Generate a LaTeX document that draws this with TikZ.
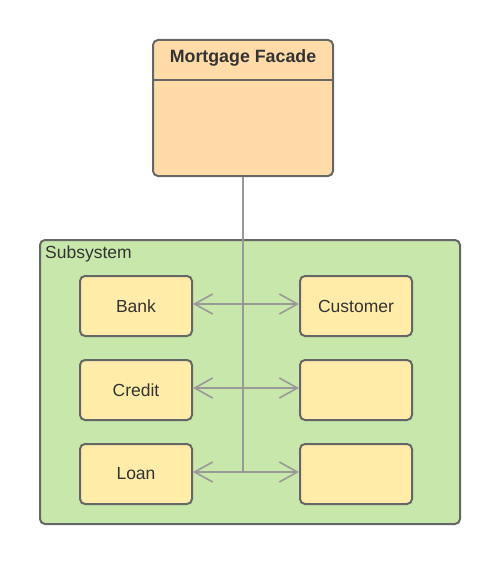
\documentclass[tikz,border=0pt]{standalone}
\usepackage{fontspec}
\setmainfont{Liberation Sans}
\usetikzlibrary{arrows.meta}
\definecolor{facadefill}{RGB}{255,219,168}
\definecolor{subfill}{RGB}{199,231,171}
\definecolor{classfill}{RGB}{255,236,168}
\definecolor{edgegray}{RGB}{102,102,102}
\definecolor{wiregray}{RGB}{153,153,153}
\definecolor{textgray}{RGB}{51,51,51}
\tikzset{x=1pt,y=-1pt,
    box/.style={
        draw=edgegray,
        line width=2pt,
        rounded corners=5pt},
    facadebox/.style={
        box,
        fill=facadefill,
        minimum width=180pt,
        minimum height=136pt},
    subbox/.style={
        box,
        fill=subfill,
        minimum width=420pt,
        minimum height=284pt},
    classbox/.style={
        box,
        fill=classfill,
        minimum width=112pt,
        minimum height=60pt,
        text=textgray,
        font=\fontsize{17.5}{20}\selectfont},
    wire/.style={
        draw=wiregray,
        line width=1.6pt},
    every edge/.style={
        wire,
        -{Straight Barb[length=18pt,width=20pt,line width=1.6pt]}}}
\begin{document}
\begin{tikzpicture}
        \useasboundingbox (0,0) rectangle (500,564);

        \node[facadebox] (facade) at (243,108) {};
        \node[font=\fontsize{17.8}{20}\selectfont\bfseries,text=textgray] (title) at (243,58) {Mortgage Facade};
        \draw[draw=edgegray,line width=2pt] (facade.west |- 0,80) -- (facade.east |- 0,80);

        \node[subbox] (subsys) at (250,382) {};
        \node[anchor=west,font=\fontsize{17.5}{20}\selectfont,text=textgray,inner sep=0pt] (sublabel) at (45,254) {Subsystem};

        \node[classbox] (bank) at (136,306) {Bank};
        \node[classbox] (customer) at (356,306) {Customer};
        \node[classbox] (credit) at (136,390) {Credit};
        \node[classbox] (other1) at (356,390) {};
        \node[classbox] (loan) at (136,474) {Loan};
        \node[classbox] (other2) at (356,474) {};

        \coordinate (j1) at (243,304);
        \coordinate (j2) at (243,388);
        \coordinate (j3) at (243,472);

        \draw[wire] (facade.south) -- (j3);

        \draw (j1) edge (bank.east |- j1);
        \draw (j1) edge (customer.west |- j1);
        \draw (j2) edge (credit.east |- j2);
        \draw (j2) edge (other1.west |- j2);
        \draw (j3) edge (loan.east |- j3);
        \draw (j3) edge (other2.west |- j3);
    \end{tikzpicture}
\end{document}
